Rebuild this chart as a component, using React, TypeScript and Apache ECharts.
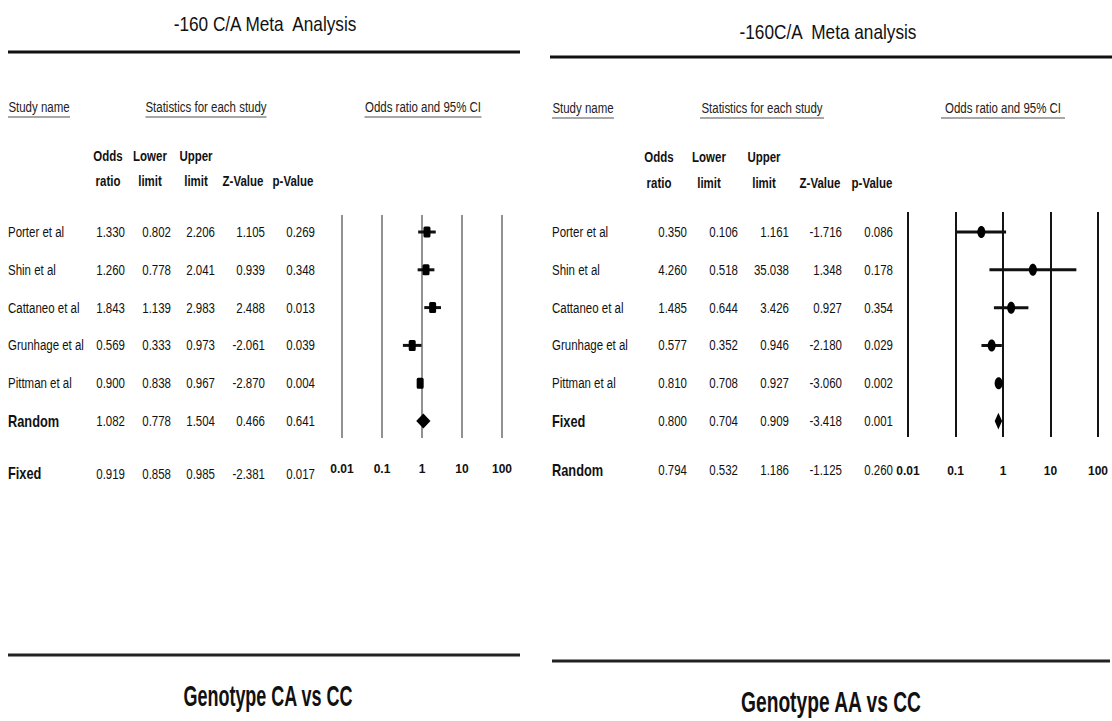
import React, { useEffect, useRef } from "react";
import * as echarts from "echarts";

// ---------- DATA ----------
const studyNames = ["Porter et al", "Shin et al", "Cattaneo et al", "Grunhage et al", "Pittman et al"];

// Genotype CA vs CC
const caOdds = [1.33, 1.26, 1.843, 0.569, 0.9];
const caLower = [0.802, 0.778, 1.139, 0.333, 0.838];
const caUpper = [2.206, 2.041, 2.983, 0.973, 0.967];
const caZ = [1.105, 0.939, 2.488, -2.061, -2.87];
const caP = [0.269, 0.348, 0.013, 0.039, 0.004];
const caSummaryNames = ["Random", "Fixed"];
const caSummaryOdds = [1.082, 0.919];
const caSummaryLower = [0.778, 0.858];
const caSummaryUpper = [1.504, 0.985];
const caSummaryZ = [0.466, -2.381];
const caSummaryP = [0.641, 0.017];

// Genotype AA vs CC
const aaOdds = [0.35, 4.26, 1.485, 0.577, 0.81];
const aaLower = [0.106, 0.518, 0.644, 0.352, 0.708];
const aaUpper = [1.161, 35.038, 3.426, 0.946, 0.927];
const aaZ = [-1.716, 1.348, 0.927, -2.18, -3.06];
const aaP = [0.086, 0.178, 0.354, 0.029, 0.002];
const aaSummaryNames = ["Fixed", "Random"];
const aaSummaryOdds = [0.8, 0.794];
const aaSummaryLower = [0.704, 0.532];
const aaSummaryUpper = [0.909, 1.186];
const aaSummaryZ = [-3.418, -1.125];
const aaSummaryP = [0.001, 0.26];

const axisTicks = [0.01, 0.1, 1, 10, 100];
const columnHeads = [["Odds", "ratio"], ["Lower", "limit"], ["Upper", "limit"], ["", "Z-Value"], ["", "p-Value"]];

// ---------- LAYOUT / STYLE ----------
const SANS = "'Liberation Sans', Arial, sans-serif";
const NARROW_SCALE = 0.82;

type Panel = {
  title: string;
  titleX: number;
  titleY: number;
  lineY: number;
  lineX: [number, number];
  subY: number;
  subs: { text: string; cx: number; w: number }[];
  headCx: number[];
  headY: [number, number];
  valRight: number[];
  nameX: number;
  grid: { left: number; top: number; width: number; height: number };
  yMin: number;
  yMax: number;
  rows: number[];
  marker: "rect" | "ellipse";
  lineColor: string;
  lineWidth: number;
  bottomY: number;
  bottomX: [number, number];
  genotype: string;
  genotypeX: number;
  genotypeY: number;
  genotypeSize: number;
  genotypeScale: number;
  names: string[];
  odds: number[];
  lower: number[];
  upper: number[];
  z: number[];
  p: number[];
  kinds: number[]; // 0 study, 1 summary with diamond, 2 summary text only
};

function buildPanel(
  base: Omit<Panel, "names" | "odds" | "lower" | "upper" | "z" | "p" | "kinds">,
  sOdds: number[], sLow: number[], sUp: number[], sZ: number[], sP: number[],
  sumNames: string[], sumOdds: number[], sumLow: number[], sumUp: number[], sumZ: number[], sumP: number[]
): Panel {
  return {
    ...base,
    names: [...studyNames, ...sumNames],
    odds: [...sOdds, ...sumOdds],
    lower: [...sLow, ...sumLow],
    upper: [...sUp, ...sumUp],
    z: [...sZ, ...sumZ],
    p: [...sP, ...sumP],
    kinds: [0, 0, 0, 0, 0, 1, 2],
  };
}

const left = buildPanel(
  {
    title: "-160 C/A Meta  Analysis",
    titleX: 265,
    titleY: 24,
    lineY: 52,
    lineX: [8, 520],
    subY: 107,
    subs: [
      { text: "Study name", cx: 39, w: 62 },
      { text: "Statistics for each study", cx: 206, w: 121 },
      { text: "Odds ratio and 95% CI", cx: 423, w: 117 },
    ],
    headCx: [108, 150, 196, 243, 293],
    headY: [156, 181],
    valRight: [125, 171, 215, 265, 315],
    nameX: 8,
    grid: { left: 342, top: 215, width: 160, height: 223 },
    yMin: -0.45,
    yMax: 5.45,
    rows: [0, 1, 2, 3, 4, 5, 6.4],
    marker: "rect",
    lineColor: "#767676",
    lineWidth: 1.6,
    bottomY: 655,
    bottomX: [8, 520],
    genotype: "Genotype CA vs CC",
    genotypeX: 268,
    genotypeY: 696,
    genotypeSize: 29,
    genotypeScale: 0.62,
  },
  caOdds, caLower, caUpper, caZ, caP,
  caSummaryNames, caSummaryOdds, caSummaryLower, caSummaryUpper, caSummaryZ, caSummaryP
);

const right = buildPanel(
  {
    title: "-160C/A  Meta analysis",
    titleX: 828,
    titleY: 32,
    lineY: 57,
    lineX: [550, 1112],
    subY: 108,
    subs: [
      { text: "Study name", cx: 583, w: 62 },
      { text: "Statistics for each study", cx: 762, w: 124 },
      { text: "Odds ratio and 95% CI", cx: 1003, w: 124 },
    ],
    headCx: [659, 709, 764, 820, 872],
    headY: [157, 183],
    valRight: [687, 738, 789, 842, 893],
    nameX: 552,
    grid: { left: 908, top: 212, width: 190, height: 225 },
    yMin: -0.53,
    yMax: 5.42,
    rows: [0, 1, 2, 3, 4, 5, 6.3],
    marker: "ellipse",
    lineColor: "#141414",
    lineWidth: 2,
    bottomY: 661,
    bottomX: [552, 1110],
    genotype: "Genotype AA vs CC",
    genotypeX: 831,
    genotypeY: 701,
    genotypeSize: 30,
    genotypeScale: 0.64,
  },
  aaOdds, aaLower, aaUpper, aaZ, aaP,
  aaSummaryNames, aaSummaryOdds, aaSummaryLower, aaSummaryUpper, aaSummaryZ, aaSummaryP
);

const panels = [left, right];

function fmt3(v: number) {
  return v.toFixed(3);
}

function tickLabel(v: number) {
  const hit = axisTicks.find((t) => Math.abs(Math.log10(t) - Math.log10(v)) < 1e-6);
  return hit === undefined ? "" : String(hit);
}

function txt(x: number, y: number, text: string, font: string, align: string, scale = NARROW_SCALE, fill = "#111") {
  return {
    type: "text",
    x,
    y,
    scaleX: scale,
    originX: 0,
    originY: 0,
    style: { text, font, fill, align, verticalAlign: "middle", textAlign: align, textVerticalAlign: "middle" },
  };
}

function panelGraphics(pn: Panel) {
  const els: any[] = [];
  els.push(txt(pn.titleX, pn.titleY, pn.title, `21px ${SANS}`, "center"));
  els.push({
    type: "line",
    shape: { x1: pn.lineX[0], y1: pn.lineY, x2: pn.lineX[1], y2: pn.lineY },
    style: { stroke: "#111", lineWidth: 3 },
  });
  pn.subs.forEach((s) => {
    els.push(txt(s.cx, pn.subY, s.text, `14px ${SANS}`, "center", NARROW_SCALE, "#222"));
    els.push({
      type: "line",
      shape: { x1: s.cx - s.w / 2, y1: pn.subY + 10, x2: s.cx + s.w / 2, y2: pn.subY + 10 },
      style: { stroke: "#8a8a8a", lineWidth: 1.5 },
    });
  });
  columnHeads.forEach((h, i) => {
    h.forEach((t, j) => {
      if (!t) return;
      els.push(txt(pn.headCx[i], pn.headY[j], t, `bold 14px ${SANS}`, "center"));
    });
  });
  els.push({
    type: "line",
    shape: { x1: pn.bottomX[0], y1: pn.bottomY, x2: pn.bottomX[1], y2: pn.bottomY },
    style: { stroke: "#222", lineWidth: 3 },
  });
  els.push(txt(pn.genotypeX, pn.genotypeY, pn.genotype, `bold ${pn.genotypeSize}px ${SANS}`, "center", pn.genotypeScale));
  return els;
}

function panelSeries(pn: Panel, gi: number) {
  const data = pn.odds.map((o, i) => [o, pn.rows[i], pn.lower[i], pn.upper[i], i]);
  return {
    type: "custom",
    xAxisIndex: gi,
    yAxisIndex: gi,
    clip: false,
    silent: true,
    encode: { x: 0, y: 1 },
    data,
    renderItem: (params: any, api: any) => {
      const idx = api.value(4) as number;
      const row = api.value(1) as number;
      const kind = pn.kinds[idx];
      const pm = api.coord([api.value(0), row]);
      const pl = api.coord([api.value(2), row]);
      const pu = api.coord([api.value(3), row]);
      const y = pm[1];
      const children: any[] = [];
      const isSum = kind !== 0;
      const valFont = `14px ${SANS}`;
      children.push(
        isSum
          ? txt(pn.nameX, y, pn.names[idx], `bold 16px ${SANS}`, "left", 0.8)
          : txt(pn.nameX, y, pn.names[idx], valFont, "left")
      );
      const vals = [fmt3(pn.odds[idx]), fmt3(pn.lower[idx]), fmt3(pn.upper[idx]), fmt3(pn.z[idx]), fmt3(pn.p[idx])];
      vals.forEach((v, k) => {
        children.push(txt(pn.valRight[k], y, v, valFont, "right"));
      });
      if (kind === 0) {
        children.push({
          type: "line",
          shape: { x1: pl[0], y1: y, x2: pu[0], y2: y },
          style: { stroke: "#111", lineWidth: 3 },
        });
        if (pn.marker === "rect") {
          children.push({
            type: "rect",
            shape: { x: pm[0] - 3.5, y: y - 5.5, width: 7, height: 11, r: 1.5 },
            style: { fill: "#000" },
          });
        } else {
          children.push({
            type: "ellipse",
            shape: { cx: pm[0], cy: y, rx: 4, ry: 6 },
            style: { fill: "#000" },
          });
        }
      } else if (kind === 1) {
        const h = 6;
        children.push({
          type: "polygon",
          shape: { points: [[pl[0], y], [pm[0], y - h], [pu[0], y], [pm[0], y + h]] },
          style: { fill: "#000", stroke: "#000", lineWidth: 2 },
        });
      }
      return { type: "group", children };
    },
  };
}

export default function App() {
  const ref = useRef<HTMLDivElement>(null);
  useEffect(() => {
    if (!ref.current) return;
    const chart = echarts.init(ref.current, undefined, { renderer: "svg" });
    const option: any = {
      animation: false,
      backgroundColor: "#fff",
      grid: panels.map((pn) => ({ ...pn.grid, containLabel: false })),
      xAxis: panels.map((pn, gi) => ({
        type: "log",
        logBase: 10,
        gridIndex: gi,
        min: axisTicks[0],
        max: axisTicks[axisTicks.length - 1],
        axisLine: { show: false },
        axisTick: { show: false },
        splitLine: { show: true, lineStyle: { color: pn.lineColor, width: pn.lineWidth } },
        axisLabel: {
          show: true,
          margin: gi === 0 ? 25 : 28,
          formatter: (v: number) => tickLabel(v),
          color: "#111",
          fontFamily: SANS,
          fontWeight: "bold",
          fontSize: 12,
          showMinLabel: true,
          showMaxLabel: true,
        },
      })),
      yAxis: panels.map((pn, gi) => ({
        type: "value",
        gridIndex: gi,
        inverse: true,
        min: pn.yMin,
        max: pn.yMax,
        show: false,
        splitLine: { show: false },
      })),
      graphic: { elements: [...panelGraphics(left), ...panelGraphics(right)] },
      series: panels.map((pn, gi) => panelSeries(pn, gi)),
    };
    chart.setOption(option);
    return () => chart.dispose();
  }, []);
  return <div ref={ref} style={{ position: "absolute", left: 0, top: 0, width: 1112, height: 721 }} />;
}
